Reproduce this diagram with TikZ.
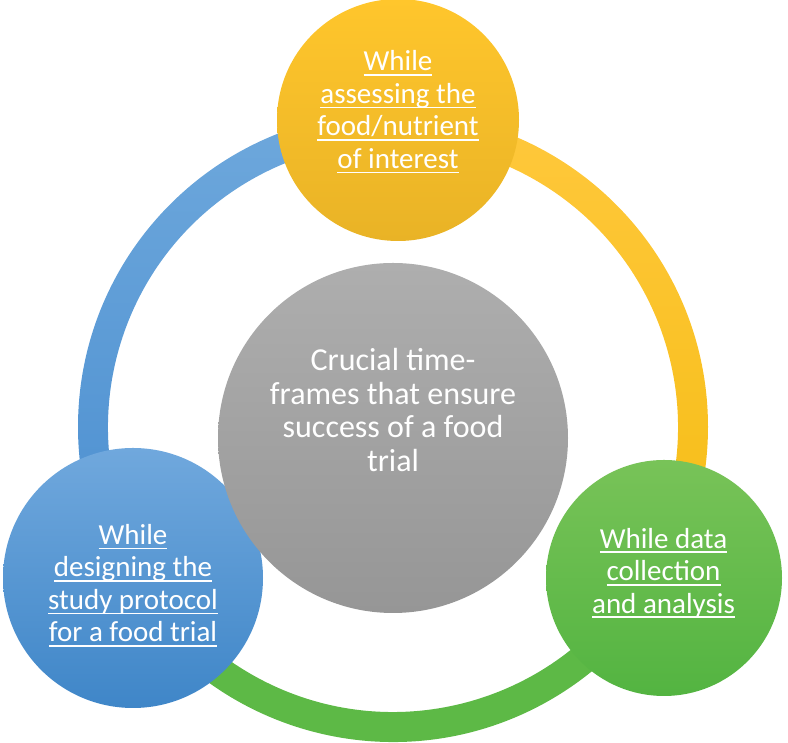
\documentclass[tikz,border=0pt]{standalone}
\usepackage{fontspec}
\setmainfont{Carlito}
\newcommand\ulx[1]{\setbox0\hbox{#1}\rlap{\rule[-5pt]{\wd0}{1.6pt}}\box0}
\definecolor{rbT}{HTML}{6EA8DC}
\definecolor{rbB}{HTML}{4A8ED0}
\definecolor{ryT}{HTML}{FFC83C}
\definecolor{ryB}{HTML}{F5BD14}
\definecolor{rg}{HTML}{5DB946}
\definecolor{cyT}{HTML}{FFC62C}
\definecolor{cyB}{HTML}{E9B326}
\definecolor{cbT}{HTML}{70A8DD}
\definecolor{cbB}{HTML}{3F86C8}
\definecolor{cgT}{HTML}{78C358}
\definecolor{cgB}{HTML}{53B441}
\definecolor{ckT}{HTML}{AEAEAE}
\definecolor{ckB}{HTML}{969696}
\tikzset{
  bubble/.style={circle, inner sep=0pt, draw=none},
  ltext/.style={text=white, align=center, inner sep=0pt,
    font=\fontsize{29}{32.5}\selectfont},
}
\begin{document}
\begin{tikzpicture}[x=1pt,y=1pt]
\useasboundingbox (0,0) rectangle (788,743);
\coordinate (ringc) at (393,316);
% ring segments
\shade[top color=rbT, bottom color=rbB]
  ([shift={(ringc)}]90:315) arc[start angle=90, end angle=210, radius=315]
  -- ([shift={(ringc)}]210:285) arc[start angle=210, end angle=90, radius=285] -- cycle;
\shade[top color=ryT, bottom color=ryB]
  ([shift={(ringc)}]90:315) arc[start angle=90, end angle=-30, radius=315]
  -- ([shift={(ringc)}]-30:285) arc[start angle=-30, end angle=90, radius=285] -- cycle;
\fill[rg]
  ([shift={(ringc)}]210:315) arc[start angle=210, end angle=330, radius=315]
  -- ([shift={(ringc)}]330:285) arc[start angle=330, end angle=210, radius=285] -- cycle;
% circles
\node[bubble, minimum size=242pt, top color=cyT, bottom color=cyB] (ntop) at (398,623) {};
\node[bubble, minimum size=260pt, top color=cbT, bottom color=cbB] (nleft) at (133,165) {};
\node[bubble, minimum size=236pt, top color=cgT, bottom color=cgB] (nright) at (664,165) {};
\node[bubble, minimum size=350pt, top color=ckT, bottom color=ckB] (ncenter) at (393,305) {};
% texts
\node[ltext] (ttop) at (398,631) {\ulx{While}\\\ulx{assessing the}\\\ulx{food/nutrient}\\\ulx{of interest}};
\node[ltext] (tleft) at (133,157.5) {\ulx{While}\\\ulx{designing the}\\\ulx{study protocol}\\\ulx{for a food trial}};
\node[ltext] (tright) at (663.5,170) {\ulx{While data}\\\ulx{collection}\\\ulx{and analysis}};
\node[ltext, font=\fontsize{32}{33.5}\selectfont] (tcenter) at (393,333) {Crucial time-\\frames that ensure\\success of a food\\trial};
\end{tikzpicture}
\end{document}
